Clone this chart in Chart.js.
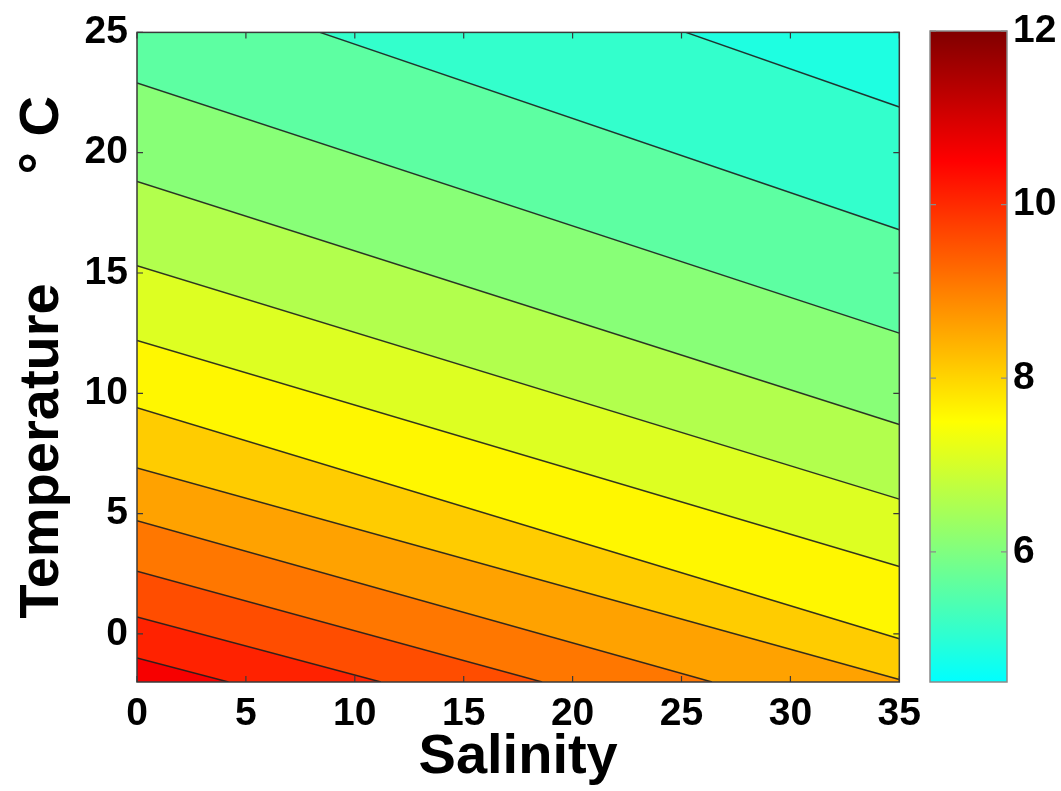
<!DOCTYPE html>
<html>
<head>
<meta charset="utf-8">
<script src="https://cdn.jsdelivr.net/npm/chart.js@4.4.1/dist/chart.umd.min.js"></script>
<style>
  body { margin: 0; background: #fff; }
  #wrap { position: relative; width: 1061px; height: 791px; }
  #mainChart { position: absolute; left: 0; top: 0; }
  #barChart { position: absolute; left: 915px; top: 0; }
</style>
</head>
<body>
<div id="wrap">
  <canvas id="mainChart" width="930" height="791"></canvas>
  <canvas id="barChart" width="146" height="791"></canvas>
</div>
<script>
// contour levels and where each contour line meets the plot frame
const levels = [5.0, 5.5, 6.0, 6.5, 7.0, 7.5, 8.0, 8.5, 9.0, 9.5, 10.0, 10.5];
const startSalinity = [25.2, 8.4, 0, 0, 0, 0, 0, 0, 0, 0, 0, 0];
const startTemp = [25, 25, 22.9, 18.8, 15.3, 12.2, 9.4, 6.9, 4.7, 2.6, 0.7, -1.0];
const endSalinity = [35, 35, 35, 35, 35, 35, 35, 35, 26.4, 18.6, 11.2, 4.2];
const endTemp = [21.9, 16.8, 12.5, 8.7, 5.6, 2.8, -0.2, -1.9, -2, -2, -2, -2];
const lowestValue = 4.85;

const salinityTicks = [0, 5, 10, 15, 20, 25, 30, 35];
const tempTicks = [0, 5, 10, 15, 20, 25];
const colorbarTicks = [6, 8, 10, 12];

const xRange = [0, 35];
const yRange = [-2, 25];
const cbRange = [4.5, 12];

// jet colormap over 0..12
function jet(v) {
    const f = v / 12;
    const c = k => Math.round(255 * Math.max(0, Math.min(1, 1.5 - Math.abs(4 * f - k))));
    return 'rgb(' + c(3) + ',' + c(2) + ',' + c(1) + ')';
}

const tickFont = {family: 'Liberation Sans, Arial, sans-serif', size: 39, weight: 'bold'};
const titleFont = {family: 'Liberation Sans, Arial, sans-serif', size: 56, weight: 'bold'};

const datasets = [];
levels.forEach((lev, i) => {
    const line = [{x: startSalinity[i], y: startTemp[i]}, {x: endSalinity[i], y: endTemp[i]}];
    const area = line.slice();
    if (startTemp[i] === yRange[1] && startSalinity[i] > xRange[0]) {
        area.unshift({x: xRange[0], y: yRange[1]});
    }
    datasets.push({
        data: area, fill: 'start', backgroundColor: jet(lev + 0.1),
        borderWidth: 0, pointRadius: 0, order: 100 - i
    });
    datasets.push({
        data: line, fill: false, borderColor: 'rgba(30,30,30,0.9)',
        borderWidth: 1.5, pointRadius: 0, order: 0
    });
});

const bandBackground = {
    id: 'bandBackground',
    beforeDatasetsDraw(chart) {
        const {ctx, chartArea: a} = chart;
        ctx.save();
        ctx.fillStyle = jet(lowestValue);
        ctx.fillRect(a.left, a.top, a.right - a.left, a.bottom - a.top);
        ctx.restore();
    }
};

function frameTicks(color, withX) {
    return {
        id: 'frameTicks',
        afterDatasetsDraw(chart) {
            const {ctx, chartArea: a, scales} = chart;
            const len = 6;
            ctx.save();
            ctx.strokeStyle = color;
            ctx.lineWidth = 1.2;
            ctx.beginPath();
            if (withX) {
                scales.x.ticks.forEach(t => {
                    const px = scales.x.getPixelForValue(t.value);
                    ctx.moveTo(px, a.bottom); ctx.lineTo(px, a.bottom - len);
                    ctx.moveTo(px, a.top); ctx.lineTo(px, a.top + len);
                });
            }
            scales.y.ticks.forEach(t => {
                const py = scales.y.getPixelForValue(t.value);
                ctx.moveTo(a.left, py); ctx.lineTo(a.left + len, py);
                ctx.moveTo(a.right, py); ctx.lineTo(a.right - len, py);
            });
            ctx.stroke();
            ctx.lineWidth = 1.5;
            ctx.strokeRect(a.left, a.top, a.right - a.left, a.bottom - a.top);
            ctx.restore();
        }
    };
}

new Chart(document.getElementById('mainChart'), {
    type: 'line',
    data: {datasets: datasets},
    options: {
        responsive: false,
        animation: false,
        elements: {line: {tension: 0}},
        layout: {padding: {left: 0, top: 31, right: 30, bottom: 0}},
        plugins: {legend: {display: false}, tooltip: {enabled: false}},
        scales: {
            x: {
                type: 'linear', min: xRange[0], max: xRange[1],
                afterBuildTicks: s => { s.ticks = salinityTicks.map(v => ({value: v})); },
                afterFit: s => { s.height = 109; },
                grid: {display: false, drawTicks: false},
                border: {display: false},
                ticks: {padding: 9, font: tickFont, color: '#000', maxRotation: 0},
                title: {display: true, text: 'Salinity', font: titleFont, color: '#000', padding: {top: 0, bottom: 0}}
            },
            y: {
                type: 'linear', min: yRange[0], max: yRange[1],
                afterBuildTicks: s => { s.ticks = tempTicks.map(v => ({value: v})); },
                afterFit: s => { s.width = 137; },
                grid: {display: false, drawTicks: false},
                border: {display: false},
                ticks: {padding: 9, font: tickFont, color: '#000'},
                title: {display: true, text: 'Temperature       \u00B0 C', font: titleFont, color: '#000', padding: {top: 9, bottom: 0}}
            }
        }
    },
    plugins: [bandBackground, frameTicks('#3a3a3a', true)]
});

new Chart(document.getElementById('barChart'), {
    type: 'bar',
    data: {
        labels: [''],
        datasets: [{
            data: [cbRange],
            borderWidth: 0,
            barPercentage: 1,
            categoryPercentage: 1,
            backgroundColor: ctx => {
                const chart = ctx.chart;
                if (!chart.chartArea) return null;
                const ys = chart.scales.y;
                const g = chart.ctx.createLinearGradient(0, ys.getPixelForValue(cbRange[0]), 0, ys.getPixelForValue(cbRange[1]));
                const n = 30;
                for (let k = 0; k <= n; k++) {
                    g.addColorStop(k / n, jet(cbRange[0] + (cbRange[1] - cbRange[0]) * k / n));
                }
                return g;
            }
        }]
    },
    options: {
        responsive: false,
        animation: false,
        layout: {padding: {left: 15, top: 31, right: 0, bottom: 109}},
        plugins: {legend: {display: false}, tooltip: {enabled: false}},
        scales: {
            x: {display: false},
            y: {
                position: 'right', min: cbRange[0], max: cbRange[1],
                afterBuildTicks: s => { s.ticks = colorbarTicks.map(v => ({value: v})); },
                afterFit: s => { s.width = 54; },
                grid: {display: false, drawTicks: false},
                border: {display: false},
                ticks: {padding: 6, font: tickFont, color: '#000'}
            }
        }
    },
    plugins: [frameTicks('#8a8a8a', false)]
});
</script>
</body>
</html>
